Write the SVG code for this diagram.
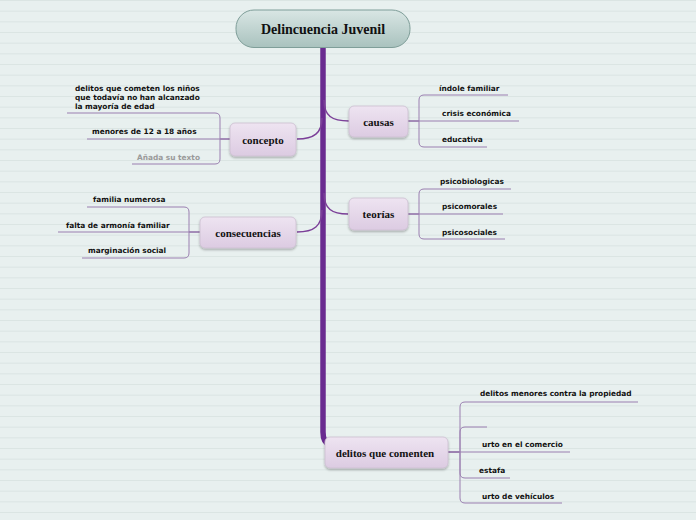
<svg xmlns="http://www.w3.org/2000/svg" width="696" height="520" viewBox="0 0 696 520">
<defs>
<pattern id="lines" x="0" y="0" width="696" height="32" patternUnits="userSpaceOnUse">
<rect width="696" height="32" fill="#e8f0ef"/>
<rect y="0" width="696" height="1" fill="#dbe5e3"/>
<rect y="10.67" width="696" height="1" fill="#dbe5e3"/>
<rect y="21.33" width="696" height="1" fill="#dbe5e3"/>
</pattern>
<linearGradient id="rootg" x1="0" y1="0" x2="0" y2="1">
<stop offset="0" stop-color="#d9e6e4"/>
<stop offset="1" stop-color="#a9c2be"/>
</linearGradient>
<linearGradient id="nodeg" x1="0" y1="0" x2="0" y2="1">
<stop offset="0" stop-color="#eee4f1"/>
<stop offset="1" stop-color="#dccbe2"/>
</linearGradient>
<filter id="sh" x="-20%" y="-20%" width="140%" height="160%">
<feDropShadow dx="0" dy="1.5" stdDeviation="1.2" flood-color="#000" flood-opacity="0.3"/>
</filter>
</defs>
<style>
.node{fill:url(#nodeg);stroke:#cbbfd0;stroke-width:0.8;filter:url(#sh)}
.nt{font-family:"Liberation Serif","DejaVu Serif",serif;font-weight:bold;font-size:11px;fill:#111;text-anchor:middle}
.lt{font-family:"DejaVu Sans","Liberation Sans",sans-serif;font-weight:bold;font-size:7.4px;fill:#111}
.leaf{fill:none;stroke:#9a7fb0;stroke-width:1}
.br{fill:none;stroke:#7b3f98;stroke-width:1.5}
</style>
<rect width="696" height="520" fill="url(#lines)"/>
<g id="connectors">
<path d="M323,47 V432 Q323,443 330,445" fill="none" stroke="#6a2b90" stroke-width="5.5"/>
<path class="br" d="M324,100 C324,116 332,121 349,121"/>
<path class="br" d="M322,118 C322,133 314,139 297,139"/>
<path class="br" d="M324,193 C324,209 332,214 348,214"/>
<path class="br" d="M322,210 C322,226 314,232 297,232"/>
<!-- concepto leaves -->
<path class="leaf" d="M230,139 H220 V118 Q220,113 215,113 H67"/>
<path class="leaf" d="M230,139 H87"/>
<path class="leaf" d="M230,139 H220 V159 Q220,164 215,164 H132"/>
<!-- causas leaves -->
<path class="leaf" d="M408,121 H419 V100 Q419,95 424,95 H508"/>
<path class="leaf" d="M408,121 H519"/>
<path class="leaf" d="M408,121 H419 V142 Q419,147 424,147 H487"/>
<!-- teorias leaves -->
<path class="leaf" d="M408,214 H419 V194 Q419,189 424,189 H511"/>
<path class="leaf" d="M408,214 H503"/>
<path class="leaf" d="M408,214 H419 V234 Q419,239 424,239 H505"/>
<!-- consecuencias leaves -->
<path class="leaf" d="M200,232 H189 V212 Q189,207 184,207 H87"/>
<path class="leaf" d="M200,232 H58"/>
<path class="leaf" d="M200,232 H189 V253 Q189,258 184,258 H82"/>
<!-- delitos leaves -->
<path class="leaf" d="M448,452 H460 V407 Q460,402 465,402 H638"/>
<path class="leaf" d="M448,452 H460 V432 Q460,427 465,427 H487"/>
<path class="leaf" d="M448,452 H570"/>
<path class="leaf" d="M448,452 H460 V473 Q460,478 465,478 H510"/>
<path class="leaf" d="M448,452 H460 V498 Q460,503 465,503 H562"/>
</g>
<g id="root">
<rect x="236" y="10" width="174" height="37.5" rx="18" fill="url(#rootg)" stroke="#7f9e99" stroke-width="1"/>
<text x="323" y="33.5" class="nt" style="font-size:14px">Delincuencia Juvenil</text>
</g>
<g id="concepto">
<rect class="node" x="230" y="123" width="66" height="33" rx="5"/>
<text x="263" y="143.5" class="nt">concepto</text>
</g>
<g id="causas">
<rect class="node" x="349" y="106" width="59" height="31" rx="5"/>
<text x="378.5" y="125.5" class="nt">causas</text>
</g>
<g id="teorias">
<rect class="node" x="349" y="198" width="59" height="32" rx="5"/>
<text x="378.5" y="218" class="nt">teorías</text>
</g>
<g id="consecuencias">
<rect class="node" x="200" y="217" width="96" height="31" rx="5"/>
<text x="248" y="236.5" class="nt">consecuencias</text>
</g>
<g id="delitos">
<rect class="node" x="325" y="437" width="123" height="31" rx="5"/>
<text x="385" y="456.5" class="nt">delitos que comenten</text>
</g>
<g id="leaf-texts">
<text class="lt" x="75" y="91">delitos que cometen los niños</text>
<text class="lt" x="75" y="100">que todavía no han alcanzado</text>
<text class="lt" x="75" y="109">la mayoría de edad</text>
<text class="lt" x="92" y="134">menores de 12 a 18 años</text>
<text class="lt" x="137" y="160" style="fill:#9a9a9a">Añada su texto</text>
<text class="lt" x="439" y="91">índole familiar</text>
<text class="lt" x="442" y="116">crisis económica</text>
<text class="lt" x="442" y="142">educativa</text>
<text class="lt" x="440" y="184">psicobiologicas</text>
<text class="lt" x="442" y="209">psicomorales</text>
<text class="lt" x="442" y="235">psicosociales</text>
<text class="lt" x="93" y="202">familia numerosa</text>
<text class="lt" x="66" y="228">falta de armonía familiar</text>
<text class="lt" x="88" y="253">marginación social</text>
<text class="lt" x="480" y="396">delitos menores contra la propiedad</text>
<text class="lt" x="482" y="447">urto en el comercio</text>
<text class="lt" x="479" y="473">estafa</text>
<text class="lt" x="482" y="499">urto de vehículos</text>
</g>
</svg>
